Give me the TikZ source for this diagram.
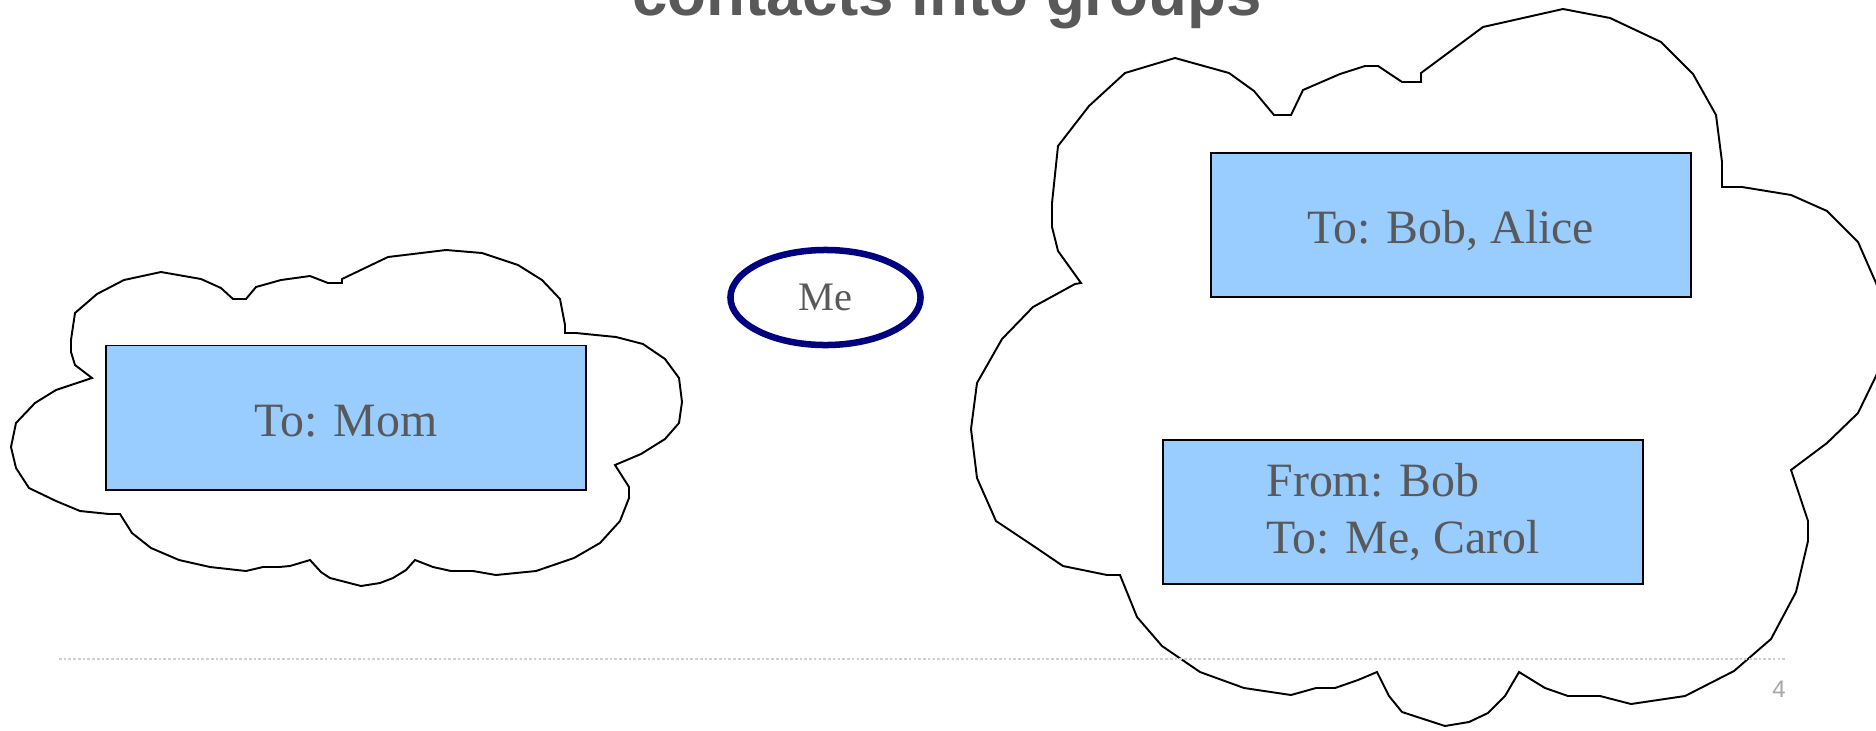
\documentclass[tikz,border=0pt]{standalone}
\usepackage{fontspec}
\setmainfont{Liberation Serif}
\setsansfont{Liberation Sans}
\usepackage{tikz}
\usetikzlibrary{shapes.geometric, positioning, calc}
\usepackage{xcolor}

\definecolor{txtgray}{HTML}{595959}
\definecolor{boxblue}{HTML}{99CCFF}
\definecolor{menavy}{HTML}{000080}
\definecolor{rulegray}{HTML}{CFCFCF}
\definecolor{numgray}{HTML}{A6A6A6}

\tikzset{
  msgbox/.style={rectangle, draw=black, fill=boxblue, line width=0.55pt,
    minimum width=4.8cm, minimum height=1.44cm, inner sep=0pt,
    text=txtgray, font=\fontsize{13.6}{16.2}\selectfont},
  oneline/.style={text height=10.8pt, text depth=0pt},
  cloudline/.style={draw=black, line width=0.55pt, line join=miter},
}

\begin{document}
\begin{tikzpicture}[x=0.01cm, y=-0.01cm]
      \useasboundingbox (0, 0) rectangle (1876, 730);
      \clip (0, 0) rectangle (1876, 730);
      \fill[white] (0, 0) rectangle (1876, 730);

      % title, cut at the top of the slide
      \node[anchor=base, inner sep=0pt, text=txtgray, font=\sffamily\bfseries\fontsize{18.1}{20}\selectfont] (title) at (947, 15) {contacts into groups};

      % left cloud
      \draw[cloudline] (92,378) -- (75,365) -- (71,352) -- (71,340) -- (75,313) -- (97,294) -- (124,280) -- (161,272) -- (201,279) -- (221,288)
        -- (233,299) -- (246,299) -- (256,287) -- (281,280) -- (310,276) -- (328,283) -- (342,283) -- (342,279) -- (388,257) -- (446,250)
        -- (482,253) -- (518,265) -- (542,280) -- (560,299) -- (565,325) -- (565,333) -- (576,333) -- (616,337) -- (643,344) -- (665,359)
        -- (679,378) -- (682,402) -- (679,423) -- (665,439) -- (641,454) -- (615,465) -- (629,487) -- (629,498) -- (620,521) -- (600,543)
        -- (574,558) -- (536,571) -- (496,575) -- (473,571) -- (451,571) -- (433,567) -- (415,560) -- (406,570) -- (393,578) -- (380,583)
        -- (361,586) -- (330,578) -- (321,572) -- (310,560) -- (290,566) -- (279,567) -- (263,567) -- (246,571) -- (210,567) -- (179,560)
        -- (151,548) -- (132,533) -- (120,514) -- (109,514) -- (80,511) -- (56,501) -- (29,488) -- (16,468) -- (11,447) -- (16,423)
        -- (35,403) -- (56,390) -- cycle;

      % right cloud
      \draw[cloudline] (1081,283) -- (1058,251) -- (1052,227) -- (1052,203) -- (1058,146) -- (1089,106) -- (1125,73) -- (1175,58) -- (1229,73) -- (1254,91)
        -- (1274,115) -- (1291,115) -- (1303,90) -- (1340,74) -- (1365,66) -- (1378,66) -- (1402,82) -- (1421,82) -- (1421,73) -- (1483,27)
        -- (1563,9) -- (1610,18) -- (1661,42) -- (1693,74) -- (1716,115) -- (1722,162) -- (1722,187) -- (1742,187) -- (1791,195) -- (1827,211)
        -- (1858,242) -- (1876,283) -- (1895,330) -- (1876,376) -- (1858,413) -- (1827,443) -- (1791,470) -- (1808,521) -- (1808,541) -- (1796,592)
        -- (1771,639) -- (1734,671) -- (1685,696) -- (1631,704) -- (1600,696) -- (1568,696) -- (1545,688) -- (1519,672) -- (1505,696) -- (1488,713)
        -- (1469,722) -- (1445,726) -- (1402,712) -- (1389,696) -- (1377,672) -- (1358,680) -- (1335,688) -- (1316,688) -- (1291,695) -- (1244,688)
        -- (1200,672) -- (1162,646) -- (1137,617) -- (1120,575) -- (1107,575) -- (1063,566) -- (1032,545) -- (996,521) -- (977,478) -- (971,429)
        -- (977,383) -- (1002,339) -- (1033,307) -- (1075,284) -- cycle;

      % messages
      \node[msgbox, oneline] (mom) at (346, 417.5) {To: Mom};
      \node[msgbox, oneline] (bobalice) at (1451, 225) {To: Bob, Alice};
      \node[msgbox, align=left] (frombob) at (1403, 512) {From: Bob\\To: Me, Carol};

      \node[ellipse, draw=menavy, line width=1.85pt, minimum width=1.90cm, minimum height=0.95cm, inner sep=0pt,
        text=txtgray, font=\fontsize{11.5}{13}\selectfont] (me) at (825.5, 297.5) {Me};

      % footer
      \coordinate (rulestart) at (59, 659);
      \coordinate (ruleend) at (1787, 659);
      \draw[rulegray, line width=0.6pt, dash pattern=on 0.75pt off 0.6pt] (rulestart) -- (ruleend);
      \node[text=numgray, font=\sffamily\fontsize{6.8}{8}\selectfont, inner sep=0pt] (pagenum) at (1779, 689) {4};

    \end{tikzpicture}
\end{document}
